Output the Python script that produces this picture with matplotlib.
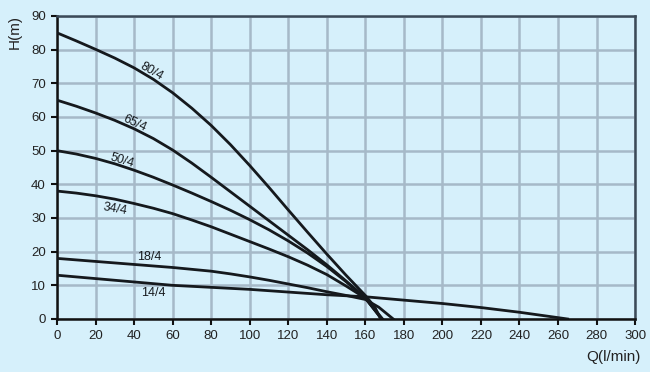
import numpy as np
import matplotlib
matplotlib.use("Agg")
import matplotlib.pyplot as plt

# pump curves: flow Q (l/min) vs head H (m)
q_80 = [0, 10, 20, 30, 40, 50, 60, 70, 80, 90, 100, 110, 120, 130, 140, 150, 160, 165, 168]
h_80 = [85, 82.6, 80.1, 77.5, 74.6, 71.2, 67.2, 62.6, 57.5, 51.8, 45.6, 39.1, 32.4, 25.8, 19.3, 13, 7, 3.5, 0]

q_65 = [0, 10, 20, 30, 40, 50, 60, 70, 80, 90, 100, 110, 120, 130, 140, 150, 160, 168.5]
h_65 = [65, 63.2, 61.2, 59, 56.5, 53.6, 50.2, 46.3, 42.1, 37.8, 33.5, 29.2, 24.9, 20.6, 16.1, 11.3, 6.3, 0]

q_50 = [0, 10, 20, 30, 40, 50, 60, 70, 80, 90, 100, 110, 120, 130, 140, 150, 160, 168.5]
h_50 = [50, 49, 47.7, 46.1, 44.2, 42.1, 39.8, 37.4, 34.9, 32.3, 29.5, 26.5, 23.2, 19.6, 15.6, 11.1, 6.2, 0]

q_34 = [0, 10, 20, 30, 40, 50, 60, 70, 80, 90, 100, 110, 120, 130, 140, 150, 160, 169]
h_34 = [38, 37.4, 36.6, 35.6, 34.3, 32.9, 31.3, 29.4, 27.4, 25.2, 23, 20.8, 18.5, 16, 13.2, 9.8, 6.2, 0]

q_18 = [0, 20, 40, 60, 80, 90, 100, 110, 120, 130, 140, 150, 160, 167, 174.5]
h_18 = [18, 17.1, 16.2, 15.3, 14.2, 13.4, 12.5, 11.5, 10.4, 9.3, 8.1, 7, 5.8, 3.5, 0]

q_14 = [0, 20, 40, 60, 80, 100, 120, 140, 160, 180, 200, 220, 240, 265]
h_14 = [13, 12, 11, 10, 9.4, 8.8, 8, 7.2, 6.6, 5.6, 4.6, 3.4, 2, 0]

labels = ["80/4", "65/4", "50/4", "34/4", "18/4", "14/4"]
label_q = [49, 40.5, 34, 30, 48, 50]
label_h = [73.5, 58, 47, 32.5, 18.5, 7.6]
label_rot = [-30, -25, -17, -10, 0, 0]

bg = "#d6f0fb"
fig = plt.figure(figsize=(6.5, 3.72), dpi=100, facecolor=bg)
ax = fig.add_axes([0.0877, 0.1425, 0.8893, 0.8145])
ax.set_facecolor(bg)

curves = [(q_80, h_80), (q_65, h_65), (q_50, h_50), (q_34, h_34), (q_18, h_18), (q_14, h_14)]
for q, h in curves:
    ax.plot(q, h, color="#15191d", lw=2.0, solid_joinstyle="round", zorder=3)

for t, x, y, r in zip(labels, label_q, label_h, label_rot):
    ax.text(x, y, t, fontsize=9, family="Liberation Sans", color="#15191d",
            rotation=r, rotation_mode="anchor", ha="center", va="center", zorder=4)

ax.set_xlim(0, 300)
ax.set_ylim(0, 90)
ax.set_xticks(np.arange(0, 301, 20))
ax.set_yticks(np.arange(0, 91, 10))
ax.grid(True, color="#a6b9c8", lw=1.8, zorder=1)
ax.set_axisbelow(True)

for s in ["left", "bottom"]:
    ax.spines[s].set_color("#111111")
    ax.spines[s].set_linewidth(1.8)
for s in ["top", "right"]:
    ax.spines[s].set_color("#3b4a58")
    ax.spines[s].set_linewidth(1.8)

ax.tick_params(direction="out", length=4, width=1.5, color="#111111",
               labelsize=9.5, pad=4)
for lab in ax.get_xticklabels() + ax.get_yticklabels():
    lab.set_family("Liberation Sans")
    lab.set_color("#222222")

fig.text(0.022, 0.915, "H(m)", rotation=90, fontsize=11, family="Liberation Sans",
         ha="center", va="center", color="#222222")
fig.text(0.986, 0.04, "Q(l/min)", fontsize=11, family="Liberation Sans",
         ha="right", va="center", color="#222222")

fig.savefig("out.png", dpi=100, facecolor=bg)
